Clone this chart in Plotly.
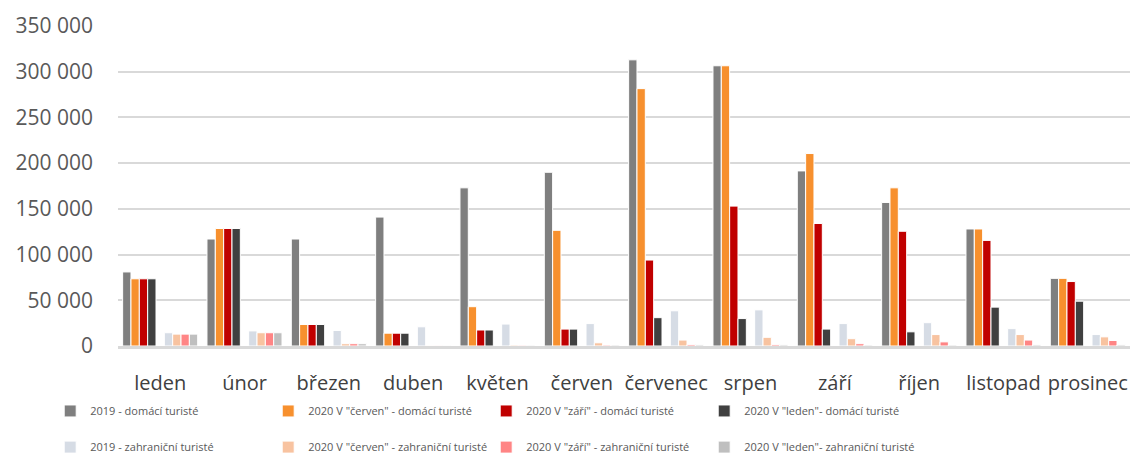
import plotly.graph_objects as go

months = ["leden", "únor", "březen", "duben", "květen", "červen",
          "červenec", "srpen", "září", "říjen", "listopad", "prosinec"]

# domácí turisté
dom_2019 = [81000, 117000, 117000, 141000, 173000, 190000, 313000, 306500, 191500, 157000, 128000, 74000]
dom_cerven = [73500, 128500, 23500, 14000, 43000, 126500, 281500, 306500, 210500, 173000, 128000, 74000]
dom_zari = [73500, 128500, 23500, 14000, 17500, 18500, 94000, 153000, 134000, 125500, 115500, 70500]
dom_leden = [73500, 128500, 23500, 14000, 17500, 18500, 31000, 30000, 18500, 15500, 42500, 49000]

# zahraniční turisté
zah_2019 = [14500, 16500, 17000, 21000, 24000, 24500, 38500, 39500, 24500, 25500, 19000, 12500]
zah_cerven = [13000, 14500, 2500, 300, 1000, 3500, 6500, 9500, 8000, 12500, 12500, 10000]
zah_zari = [13000, 14500, 2500, 300, 800, 1000, 1500, 1500, 2500, 4500, 6500, 6000]
zah_leden = [13000, 14500, 2500, 300, 800, 1000, 1200, 1200, 1000, 1000, 1200, 1200]

dom_series = [
    ("2019 - domácí turisté", dom_2019, "#7f7f7f"),
    ('2020 V "červen" - domácí turisté', dom_cerven, "#f7902e"),
    ('2020 V "září" - domácí turisté', dom_zari, "#c00000"),
    ('2020 V "leden"- domácí turisté', dom_leden, "#404040"),
]
zah_series = [
    ("2019 - zahraniční turisté", zah_2019, "#d6dce5"),
    ('2020 V "červen" - zahraniční turisté', zah_cerven, "#f8c3a0"),
    ('2020 V "září" - zahraniční turisté', zah_zari, "#ff8585"),
    ('2020 V "leden"- zahraniční turisté', zah_leden, "#bfbfbf"),
]

FONT = "Open Sans"
TXT = "#595959"

fig = go.Figure()
for name, vals, color in dom_series:
    fig.add_trace(go.Bar(x=months, y=vals, name=name, legend="legend",
                         marker=dict(color=color, line=dict(color="white", width=1))))
# prázdná mezera mezi domácími a zahraničními
fig.add_trace(go.Bar(x=months, y=[0] * 12, showlegend=False, hoverinfo="skip",
                     marker=dict(color="rgba(0,0,0,0)", line=dict(width=0))))
for name, vals, color in zah_series:
    fig.add_trace(go.Bar(x=months, y=vals, name=name, legend="legend2",
                         marker=dict(color=color, line=dict(color="white", width=1))))

leg = dict(orientation="h", x=-0.067, xanchor="left", yanchor="middle",
           entrywidth=173, font=dict(family=FONT, size=11, color=TXT),
           bgcolor="rgba(0,0,0,0)", itemwidth=30)
fig.update_layout(
    barmode="group", bargap=0.11, bargroupgap=0,
    width=1134, height=454,
    margin=dict(l=118, r=4, t=26, b=108, autoexpand=False),
    plot_bgcolor="white", paper_bgcolor="white",
    separators=", ",
    font=dict(family=FONT, color=TXT),
    legend=dict(leg, y=-0.203),
    legend2=dict(leg, y=-0.316),
)
fig.update_yaxes(range=[0, 350000], dtick=50000, tickformat=",d",
                 showgrid=True, gridcolor="#d9d9d9", gridwidth=1.5,
                 zeroline=False, showline=False, ticks="",
                 ticklabelstandoff=24,
                 tickfont=dict(family=FONT, size=21, color=TXT))
fig.update_xaxes(showline=True, linecolor="#d9d9d9", linewidth=2.5, ticks="",
                 ticklabelstandoff=17,
                 tickfont=dict(family=FONT, size=20, color="#404040"))

# bez výchozího okraje stránky, aby graf seděl přesně do okna
fig.write_html("out.html", config={"displayModeBar": False},
               post_script="document.body.style.margin='0';"
                           "document.body.style.overflow='hidden';")
